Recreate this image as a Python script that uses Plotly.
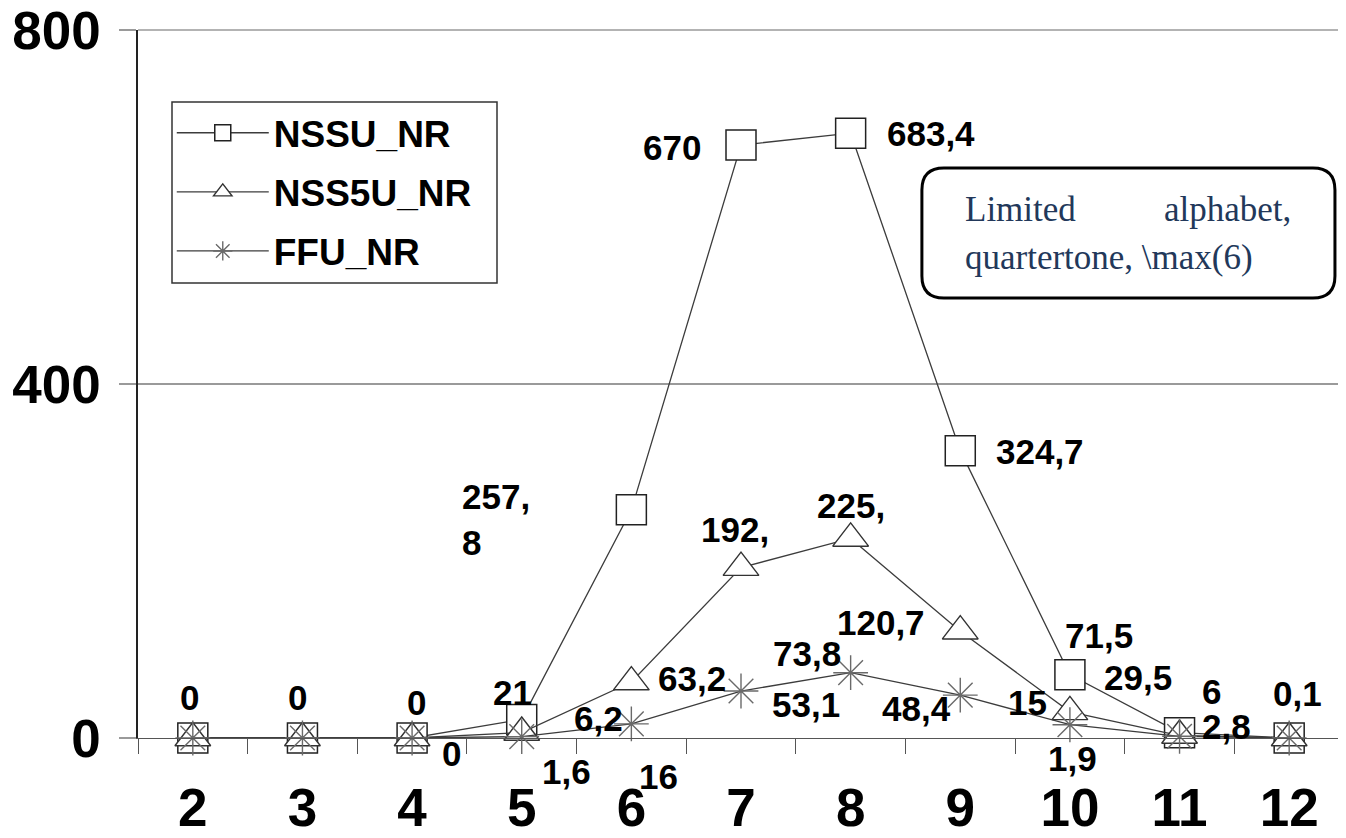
import plotly.graph_objects as go

# ---------------- data ----------------
categories = ["2", "3", "4", "5", "6", "7", "8", "9", "10", "11", "12"]
nssu = [0, 0, 0, 21, 257.8, 670, 683.4, 324.7, 71.5, 6, 0.1]
nss5u = [0, 0, 0, 6.2, 63.2, 192.5, 225.5, 120.7, 29.5, 2.8, 0]
ffu = [0, 0, 0, 1.6, 16, 53.1, 73.8, 48.4, 15, 1.9, 0]

nssu_labels = ["0", "0", "0", "21", "257,<br>8", "670", "683,4", "324,7", "71,5", "6", "0,1"]
nss5u_labels = ["", "", "", "6,2", "63,2", "192,", "225,", "120,7", "29,5", "2,8", ""]
ffu_labels = ["", "", "0", "1,6", "16", "53,1", "73,8", "48,4", "15", "1,9", ""]

series_names = ["NSSU_NR", "NSS5U_NR", "FFU_NR"]
y_tickvals = [0, 400, 800]

# ---------------- label placement (pixel offsets, screen: +dy = down) ----------------
nssu_off = [(-3, -41), (-5, -41), (4, -36), (-9, -27), (-171, 10), (-69, 2),
            (80, 0), (80, 1), (29, -39), (32, -41), (8, -44)]
nss5u_off = [None, None, None, (77, -14), (61, -4), (-6, -38), (0, -33),
             (-79, -9), (68, -34), (47, -9), None]
ffu_off = [None, None, (39, 15), (45, 35), (27, 53), (65, 13), (-44, -19),
           (-44, 13), (-42, -22), (-107, 22), None]

LINE = "#3c3c3c"
GRID = "#9a9a9a"
FONT = "Liberation Sans, Arial, sans-serif"

fig = go.Figure()
fig.add_trace(go.Scatter(
    x=categories, y=nssu, name=series_names[0], mode="lines+markers",
    line=dict(color=LINE, width=1.3), legendgroup="a",
    marker=dict(symbol="square", size=30, color="white",
                line=dict(color="#222222", width=1.5)),
    cliponaxis=False))
fig.add_trace(go.Scatter(
    x=categories, y=nss5u, name=series_names[1], mode="lines+markers",
    line=dict(color=LINE, width=1.3), legendgroup="b",
    marker=dict(symbol="triangle-up", size=31, color="white",
                line=dict(color="#333333", width=1.4)),
    cliponaxis=False))
fig.add_trace(go.Scatter(
    x=categories, y=ffu, name=series_names[2], mode="lines+markers",
    line=dict(color=LINE, width=1.3), legendgroup="c",
    marker=dict(symbol="asterisk-open", size=29, color="#6a6a6a",
                line=dict(color="#6a6a6a", width=1.4)),
    cliponaxis=False))

annotations = []
for vals, labels, offs in [(nssu, nssu_labels, nssu_off),
                           (nss5u, nss5u_labels, nss5u_off),
                           (ffu, ffu_labels, ffu_off)]:
    for idx, (v, lab, off) in enumerate(zip(vals, labels, offs)):
        if not lab or off is None:
            continue
        dx, dy = off
        multi = "<br>" in lab
        annotations.append(dict(
            x=idx, y=v, xref="x", yref="y", text=lab, showarrow=False,
            xanchor="left" if multi else "center", yanchor="middle",
            align="left", xshift=dx, yshift=-dy,
            font=dict(family=FONT, size=35, color="black", weight="bold")))

# text box annotation
TXT = dict(family="Liberation Serif, Times New Roman, serif", size=35, color="#22385a")
annotations += [
    dict(x=0.684, y=0.746, xref="paper", yref="paper", text="Limited",
         showarrow=False, xanchor="left", yanchor="middle", font=TXT),
    dict(x=0.958, y=0.746, xref="paper", yref="paper", text="alphabet,",
         showarrow=False, xanchor="right", yanchor="middle", font=TXT),
    dict(x=0.684, y=0.679, xref="paper", yref="paper", text="quartertone, \\max(6)",
         showarrow=False, xanchor="left", yanchor="middle", font=TXT),
]

# rounded rectangle
x0, x1, y0, y1 = 0.650, 0.9925, 0.6215, 0.805
rx, ry = 22 / 1206, 22 / 708
path = (f"M{x0+rx},{y1} L{x1-rx},{y1} Q{x1},{y1} {x1},{y1-ry} "
        f"L{x1},{y0+ry} Q{x1},{y0} {x1-rx},{y0} L{x0+rx},{y0} "
        f"Q{x0},{y0} {x0},{y0+ry} L{x0},{y1-ry} Q{x0},{y1} {x0+rx},{y1} Z")

# legend frame (drawn as a shape so its width matches the reference)
lx0, lx1, ly0, ly1 = (172 - 138) / 1206, (497 - 138) / 1206, (738 - 283) / 708, (738 - 102) / 708

fig.update_layout(
    width=1338, height=830,
    margin=dict(l=130, r=2, t=22, b=100, autoexpand=False),
    paper_bgcolor="white", plot_bgcolor="white",
    font=dict(family=FONT, color="black"),
    showlegend=True,
    legend=dict(x=0.028, y=0.898, xanchor="left", yanchor="top",
                bgcolor="rgba(0,0,0,0)", borderwidth=0,
                font=dict(family=FONT, size=37, color="black", weight="bold"),
                itemwidth=92, tracegroupgap=8, traceorder="grouped"),
    annotations=annotations,
    shapes=[dict(type="path", path=path, xref="paper", yref="paper",
                 line=dict(color="black", width=3), fillcolor="white", layer="above"),
            dict(type="rect", xref="paper", yref="paper", x0=lx0, x1=lx1, y0=ly0, y1=ly1,
                 line=dict(color="#333333", width=1.5), fillcolor="white", layer="above"),
            dict(type="line", xref="paper", yref="paper", x0=0, x1=1, y0=1, y1=1,
                 line=dict(color=GRID, width=1.5), layer="below")],
    xaxis=dict(type="category", categoryorder="array", categoryarray=categories,
               range=[-0.5, 10.5], showline=True, linecolor="#555555", linewidth=1.2,
               ticks="outside", ticklen=15, tickcolor="#555555", tickwidth=1.2,
               tickson="boundaries", showgrid=False, zeroline=False,
               ticklabelstandoff=23, automargin=False,
               tickfont=dict(family=FONT, size=53, color="black", weight="bold")),
    yaxis=dict(range=[0, 800], tickvals=y_tickvals, showgrid=True,
               gridcolor=GRID, gridwidth=1.5, showline=True, linecolor="#222222",
               linewidth=1.5, ticks="outside", ticklen=17, tickcolor=GRID,
               tickwidth=1.5, zeroline=False, ticklabelstandoff=8,
               ticklabeloverflow="allow", automargin=False,
               tickfont=dict(family=FONT, size=53, color="black", weight="bold")),
)

fig.write_html("out.html")
